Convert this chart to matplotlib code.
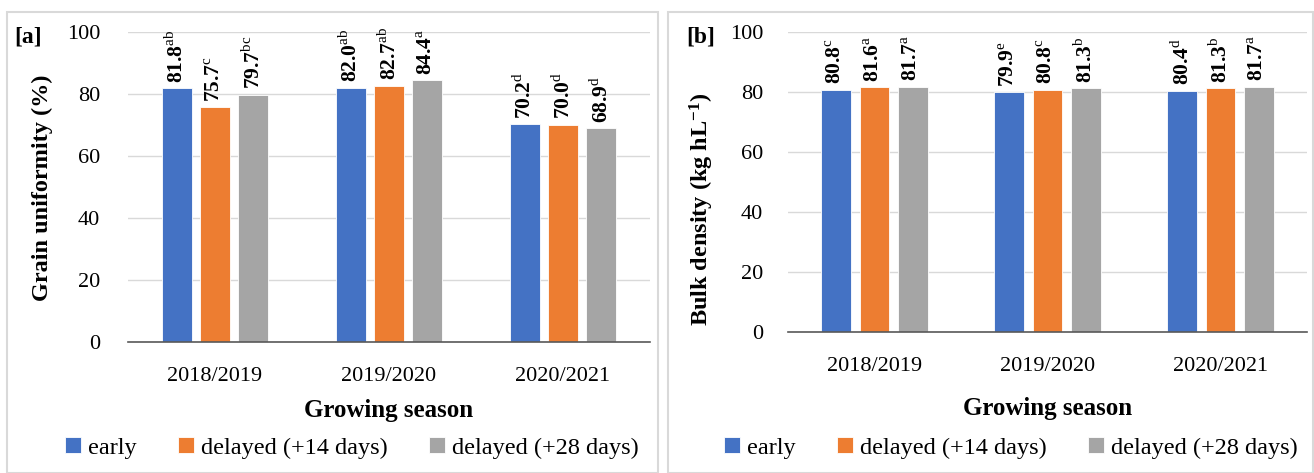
import matplotlib
matplotlib.use("Agg")
import matplotlib.pyplot as plt
import numpy as np
from matplotlib.patches import Rectangle

plt.rcParams['font.family'] = 'Liberation Serif'
plt.rcParams['mathtext.fontset'] = 'custom'
plt.rcParams['mathtext.rm'] = 'Liberation Serif'
plt.rcParams['mathtext.bf'] = 'Liberation Serif:bold'

seasons = ["2018/2019", "2019/2020", "2020/2021"]
series = ["early", "delayed (+14 days)", "delayed (+28 days)"]
colors = ["#4472C4", "#ED7D31", "#A5A5A5"]

# grain uniformity (%)
unif_early = [81.8, 82.0, 70.2]
unif_d14 = [75.7, 82.7, 70.0]
unif_d28 = [79.7, 84.4, 68.9]
unif_letters = [["ab", "ab", "d"], ["c", "ab", "d"], ["bc", "a", "d"]]

# bulk density (kg hL-1)
bulk_early = [80.8, 79.9, 80.4]
bulk_d14 = [81.6, 80.8, 81.3]
bulk_d28 = [81.7, 81.3, 81.7]
bulk_letters = [["c", "e", "d"], ["a", "c", "b"], ["a", "b", "a"]]

W, H = 1314, 473
fig = plt.figure(figsize=(W / 100, H / 100), dpi=100)

# panel frames
for x0, x1 in [(7, 658), (668, 1313)]:
    fig.patches.append(Rectangle((x0 / W, 0), (x1 - x0) / W, (H - 12) / H,
                                 transform=fig.transFigure, fill=False,
                                 edgecolor="#d9d9d9", lw=1.5))


def panel(rect, data, letters, ylabel, ylab_xy, tag, tag_x, tickpad, xlabpad):
    ax = fig.add_axes([rect[0] / W, (H - rect[3]) / H, (rect[2] - rect[0]) / W, (rect[3] - rect[1]) / H])
    x = np.arange(len(seasons))
    w = 0.172
    offs = [-0.221, 0, 0.221]
    for i, vals in enumerate(data):
        ax.bar(x + offs[i], vals, w, color=colors[i], edgecolor="white", lw=0.6,
               label=series[i], zorder=3)
        for xi, v, lt in zip(x + offs[i], vals, letters[i]):
            ax.annotate(r"$\mathbf{%.1f}^{\mathrm{%s}}$" % (v, lt), (xi, v),
                        xytext=(0, 4), textcoords="offset points",
                        rotation=90, ha="center", va="bottom", fontsize=15.5)
    ax.set_ylim(0, 100)
    ax.set_xlim(-0.5, 2.5)
    ax.set_yticks([0, 20, 40, 60, 80, 100])
    ax.yaxis.grid(True, color="#d9d9d9", lw=1, zorder=0)
    ax.set_axisbelow(True)
    for s in ["top", "right", "left"]:
        ax.spines[s].set_visible(False)
    ax.spines["bottom"].set_color("#595959")
    ax.spines["bottom"].set_linewidth(1.2)
    ax.spines["bottom"].set_zorder(4)
    ax.tick_params(length=0, labelsize=16, colors="black")
    ax.tick_params(axis="y", pad=tickpad)
    ax.tick_params(axis="x", pad=18)
    ax.set_xticks(x)
    ax.set_xticklabels(seasons)
    ax.set_xlabel("Growing season", fontsize=18, fontweight="bold", labelpad=xlabpad)
    fig.text(ylab_xy[0] / W, (H - ylab_xy[1]) / H, ylabel, rotation=90,
             ha="center", va="center", fontsize=17.5, fontweight="bold")
    fig.text(tag_x / W, (H - 37) / H, tag, ha="left", va="center",
             fontsize=17, fontweight="bold")
    return ax


ax1 = panel((128, 32, 650, 342), [unif_early, unif_d14, unif_d28], unif_letters,
            "Grain uniformity (%)", (42, 188), "[a]", 14, 20, 9)
ax2 = panel((788, 32, 1307, 332), [bulk_early, bulk_d14, bulk_d28], bulk_letters,
            r"Bulk density (kg $\mathbf{hL^{-1}}$)", (702, 209), "[b]", 686, 18, 15)

for ax, cx in [(ax1, 352), (ax2, 1011)]:
    ax.legend(loc="center", bbox_to_anchor=(cx / W, (H - 448) / H),
              bbox_transform=fig.transFigure, ncol=3, frameon=False,
              fontsize=17.5, handlelength=0.65, handleheight=0.65, handletextpad=0.3,
              columnspacing=1.7)

fig.savefig("out.png", dpi=100)
